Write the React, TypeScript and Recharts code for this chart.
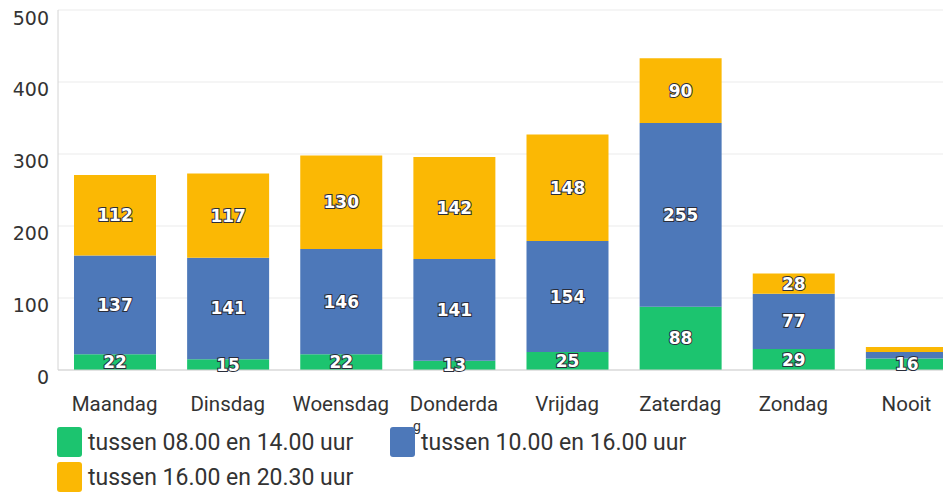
import { BarChart, Bar, XAxis, YAxis, CartesianGrid, LabelList } from "recharts";

const dagen = ["Maandag", "Dinsdag", "Woensdag", "Donderdag", "Vrijdag", "Zaterdag", "Zondag", "Nooit"];
const ochtend = [22, 15, 22, 13, 25, 88, 29, 16];
const middag = [137, 141, 146, 141, 154, 255, 77, 9];
const avond = [112, 117, 130, 142, 148, 90, 28, 7];
const yTicks = [0, 100, 200, 300, 400, 500];

const series = [
  { key: "ochtend", name: "tussen 08.00 en 14.00 uur", color: "#1cc46f" },
  { key: "middag", name: "tussen 10.00 en 16.00 uur", color: "#4d78b9" },
  { key: "avond", name: "tussen 16.00 en 20.30 uur", color: "#fbb804" },
];

const data = dagen.map((d, i) => ({ name: d, ochtend: ochtend[i], middag: middag[i], avond: avond[i] }));

const font = "Roboto, 'Noto Sans', sans-serif";
const numFont = "'DejaVu Sans', sans-serif";

// white numbers with a dark rim, hidden when the segment is too thin
function SegmentLabel(props: any) {
  const { x, y, width, height, value } = props;
  if (height < 8) return null;
  return (
    <text
      x={x + width / 2}
      y={y + height / 2}
      dy={6}
      textAnchor="middle"
      fontFamily={numFont}
      fontWeight={700}
      fontSize={17}
      fill="#fff"
      stroke="#2a2d3a"
      strokeWidth={2}
      paintOrder="stroke"
    >
      {value}
    </text>
  );
}

// the original wraps "Donderdag" after 8 characters
function DayTick(props: any) {
  const { x, y, payload } = props;
  const label: string = payload.value;
  const first = label.slice(0, 8);
  const rest = label.slice(8);
  return (
    <g>
      <text x={x} y={y} dy={19} textAnchor="middle" fontFamily={font} fontSize={20.5} fill="#333">
        {first}
      </text>
      {rest && (
        <text x={x - 41} y={y} dy={39} textAnchor="start" fontFamily={font} fontSize={14} fill="#333">
          {rest}
        </text>
      )}
    </g>
  );
}

export default function App() {
  return (
    <div style={{ position: "relative", width: 951, height: 493, margin: "-8px 0 0 -8px", overflow: "hidden", background: "#fff" }}>
      <BarChart
        width={967}
        height={493}
        data={data}
        margin={{ top: 10, right: 4, bottom: 73, left: 2 }}
        barSize={82}
      >
        <CartesianGrid vertical={false} stroke="#ebebeb" />
        <XAxis
          dataKey="name"
          tick={<DayTick />}
          tickLine={false}
          axisLine={{ stroke: "#cfcfcf" }}
          height={50}
          interval={0}
          tickMargin={16}
        />
        <YAxis
          domain={[0, 500]}
          ticks={yTicks}
          width={56}
          tickLine={false}
          axisLine={{ stroke: "#d4d4d4" }}
          tickMargin={3}
          tick={{ fontFamily: numFont, fontSize: 19, fill: "#333", dy: 7 }}
        />
        {series.map((s) => (
          <Bar key={s.key} dataKey={s.key} stackId="a" fill={s.color} isAnimationActive={false}>
            <LabelList dataKey={s.key} content={<SegmentLabel />} />
          </Bar>
        ))}
      </BarChart>
      <div style={{ position: "absolute", left: 57, top: 427, width: 800, fontFamily: font, fontSize: 23, color: "#333" }}>
        {series.map((s, i) => (
          <div
            key={s.key}
            style={{
              position: "absolute",
              left: i === 1 ? 333 : 0,
              top: i === 2 ? 35 : 0,
              display: "flex",
              alignItems: "center",
              whiteSpace: "nowrap",
            }}
          >
            <span style={{ display: "inline-block", width: 25, height: 30, borderRadius: 3, background: s.color, marginRight: 6 }} />
            <span>{s.name}</span>
          </div>
        ))}
      </div>
    </div>
  );
}
